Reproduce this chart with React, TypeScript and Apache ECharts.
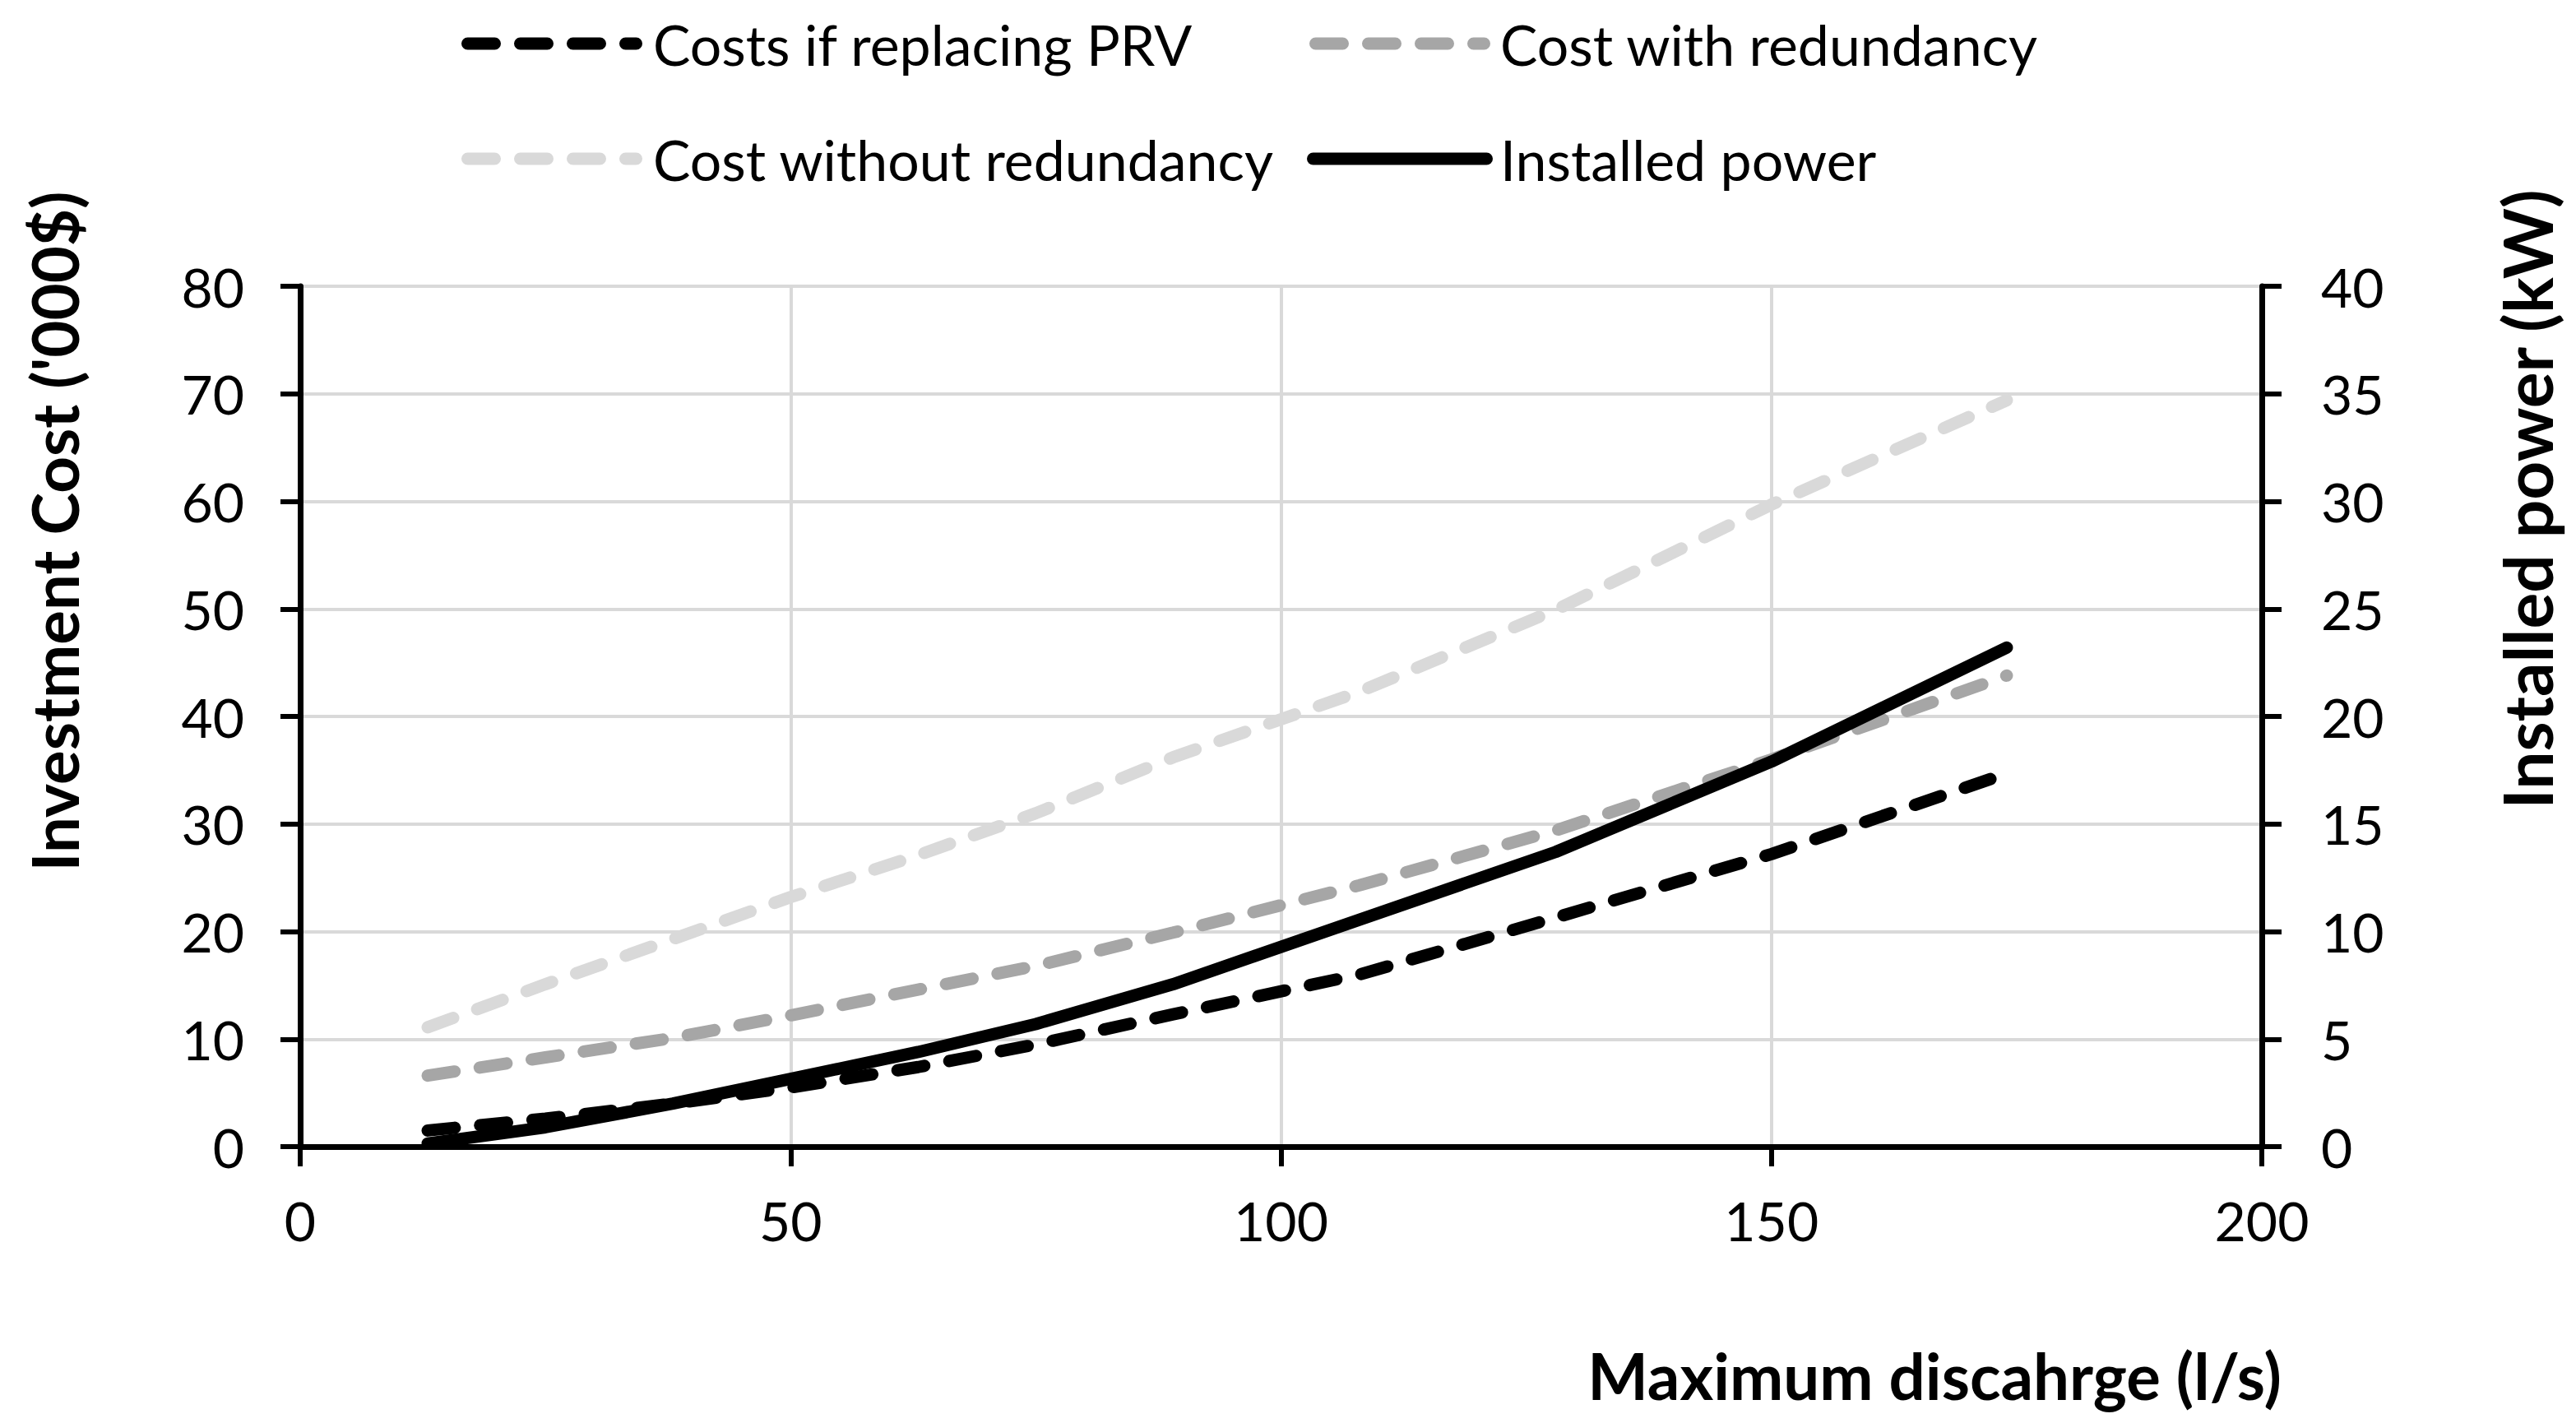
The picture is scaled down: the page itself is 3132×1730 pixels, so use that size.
import React, { useEffect, useRef } from "react";
import * as echarts from "echarts";

const xValues = [13, 25, 38, 50, 63, 75, 89, 108, 128, 150, 174];
const costReplacingPRV = [1.5, 2.6, 4.0, 5.5, 7.4, 9.5, 12.3, 16.0, 21.3, 27.2, 34.7];
const costWithRedundancy = [6.6, 8.3, 10.1, 12.2, 14.6, 16.8, 19.9, 24.3, 29.4, 36.0, 43.8];
const costWithoutRedundancy = [11.1, 15.1, 19.3, 23.2, 27.1, 31.0, 36.2, 42.3, 49.9, 59.7, 69.4];
const installedPower = [0.15, 0.9, 2.0, 3.15, 4.4, 5.7, 7.55, 10.55, 13.7, 17.9, 23.2];

const seriesNames = [
  "Costs if replacing PRV",
  "Cost with redundancy",
  "Cost without redundancy",
  "Installed power",
];

const FONT = "Lato";
const TICK_SIZE = 66;
const LEGEND_SIZE = 68;
const TITLE_SIZE = 78;

const pair = (ys: number[]) => xValues.map((x, i) => [x, ys[i]]);

function roundedSegments(segs: number[][], h: number) {
  const r = h / 2;
  return (
    "path://" +
    segs
      .map(
        ([a, b]) =>
          `M${a + r} 0 L${b - r} 0 A${r} ${r} 0 0 1 ${b - r} ${h} L${a + r} ${h} A${r} ${r} 0 0 1 ${a + r} 0 Z`
      )
      .join(" ")
  );
}

const dashedIcon = roundedSegments(
  [
    [0, 48],
    [64, 112],
    [128, 176],
    [192, 220],
  ],
  15
);
const solidIcon = roundedSegments([[0, 226]], 15);

export default function App() {
  const ref = useRef<HTMLDivElement>(null);
  useEffect(() => {
    if (!ref.current) return;
    const chart = echarts.init(ref.current, null, { renderer: "svg" });
    const dash = [33, 31];
    const lw = 15;
    const legendCommon = {
      orient: "vertical" as const,
      top: 13,
      itemHeight: 15,
      itemGap: 70,
    };
    const legendText = (pad: number) => ({
      fontFamily: FONT,
      fontSize: LEGEND_SIZE,
      color: "#000",
      lineHeight: 70,
      padding: [0, 0, 0, pad],
    });
    const titleStyle = {
      fontFamily: FONT,
      fontWeight: "bold",
      fontSize: TITLE_SIZE,
      fill: "#000",
      align: "center",
      verticalAlign: "middle",
    };
    chart.setOption({
      animation: false,
      backgroundColor: "#fff",
      textStyle: { fontFamily: FONT },
      legend: [
        {
          ...legendCommon,
          left: 556,
          itemWidth: 220,
          textStyle: legendText(8),
          data: [
            { name: seriesNames[0], icon: dashedIcon },
            { name: seriesNames[2], icon: dashedIcon },
          ],
        },
        {
          ...legendCommon,
          left: 1584,
          itemWidth: 226,
          textStyle: legendText(4),
          data: [
            { name: seriesNames[1], icon: dashedIcon },
            { name: seriesNames[3], icon: solidIcon },
          ],
        },
      ],
      grid: { left: 365, right: 382, top: 348, bottom: 336, containLabel: false },
      xAxis: {
        type: "value",
        min: 0,
        max: 200,
        interval: 50,
        axisLine: { show: true, lineStyle: { color: "#000", width: 7 } },
        axisTick: { show: true, length: 24, lineStyle: { color: "#000", width: 6 } },
        axisLabel: { color: "#000", fontFamily: FONT, fontSize: TICK_SIZE, margin: 56 },
        splitLine: { show: true, lineStyle: { color: "#d9d9d9", width: 4 } },
      },
      yAxis: [
        {
          type: "value",
          min: 0,
          max: 80,
          interval: 10,
          position: "left",
          axisLine: { show: true, lineStyle: { color: "#000", width: 7 } },
          axisTick: { show: true, length: 24, lineStyle: { color: "#000", width: 6 } },
          axisLabel: { color: "#000", fontFamily: FONT, fontSize: TICK_SIZE, margin: 68 },
          splitLine: { show: true, lineStyle: { color: "#d9d9d9", width: 4 } },
        },
        {
          type: "value",
          min: 0,
          max: 40,
          interval: 5,
          position: "right",
          axisLine: { show: true, lineStyle: { color: "#000", width: 7 } },
          axisTick: { show: true, length: 24, lineStyle: { color: "#000", width: 6 } },
          axisLabel: { color: "#000", fontFamily: FONT, fontSize: TICK_SIZE, margin: 72 },
          splitLine: { show: false },
        },
      ],
      series: [
        {
          name: seriesNames[0],
          type: "line",
          yAxisIndex: 0,
          data: pair(costReplacingPRV),
          symbol: "none",
          color: "#000000",
          lineStyle: { color: "#000000", width: lw, type: dash, cap: "round" },
        },
        {
          name: seriesNames[1],
          type: "line",
          yAxisIndex: 0,
          data: pair(costWithRedundancy),
          symbol: "none",
          color: "#a6a6a6",
          lineStyle: { color: "#a6a6a6", width: lw, type: dash, cap: "round" },
        },
        {
          name: seriesNames[2],
          type: "line",
          yAxisIndex: 0,
          data: pair(costWithoutRedundancy),
          symbol: "none",
          color: "#d9d9d9",
          lineStyle: { color: "#d9d9d9", width: lw, type: dash, cap: "round" },
        },
        {
          name: seriesNames[3],
          type: "line",
          yAxisIndex: 1,
          data: pair(installedPower),
          symbol: "none",
          color: "#000000",
          lineStyle: { color: "#000000", width: lw, cap: "round", join: "round" },
        },
      ],
      graphic: [
        {
          type: "text",
          x: 66,
          y: 646,
          rotation: Math.PI / 2,
          style: { ...titleStyle, text: "Investment Cost ('000$)" },
        },
        {
          type: "text",
          x: 3072,
          y: 607,
          rotation: Math.PI / 2,
          style: { ...titleStyle, fontSize: 82, text: "Installed power (kW)" },
        },
        {
          type: "text",
          x: 2352,
          y: 1672,
          style: { ...titleStyle, text: "Maximum discahrge (l/s)" },
        },
      ],
    });
    return () => chart.dispose();
  }, []);
  return (
    <div
      ref={ref}
      style={{ position: "fixed", left: 0, top: 0, width: 3132, height: 1730, background: "#fff" }}
    />
  );
}
